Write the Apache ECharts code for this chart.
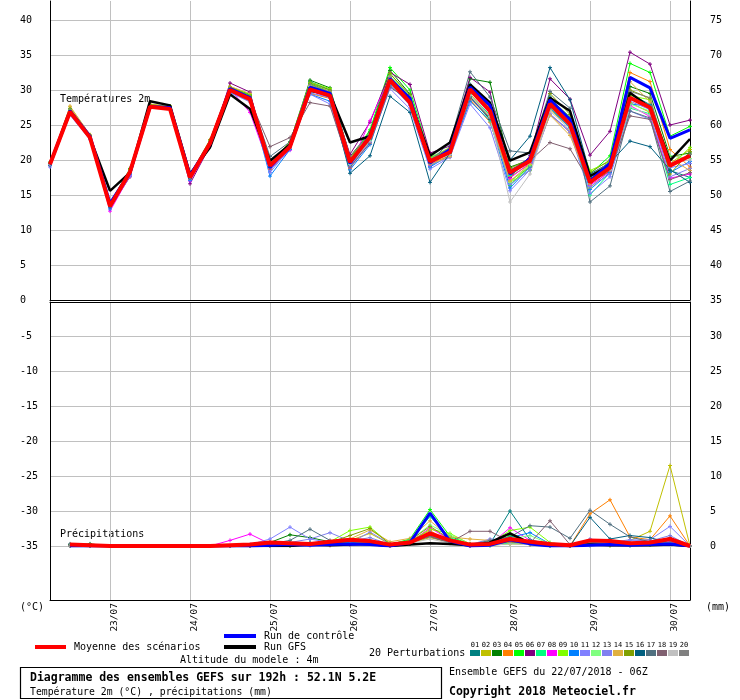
<!DOCTYPE html>
<html><head><meta charset="utf-8">
<script src="https://cdn.jsdelivr.net/npm/echarts@6/dist/echarts.min.js"></script>
<style>html,body{margin:0;padding:0;background:#fff}#c{width:740px;height:700px}</style>
</head><body><div id="c"></div>
<script>
// ---- categories (6-hourly steps, run 22/07/2018 06Z, 192h) ----
const times = ['22/07 06Z','22/07 12Z','22/07 18Z',
  '23/07 00Z','23/07 06Z','23/07 12Z','23/07 18Z',
  '24/07 00Z','24/07 06Z','24/07 12Z','24/07 18Z',
  '25/07 00Z','25/07 06Z','25/07 12Z','25/07 18Z',
  '26/07 00Z','26/07 06Z','26/07 12Z','26/07 18Z',
  '27/07 00Z','27/07 06Z','27/07 12Z','27/07 18Z',
  '28/07 00Z','28/07 06Z','28/07 12Z','28/07 18Z',
  '29/07 00Z','29/07 06Z','29/07 12Z','29/07 18Z',
  '30/07 00Z','30/07 06Z'];

// ---- 2m temperature (°C) ----
const tMean = [19.4,26.9,23.2,13.4,18.3,27.6,27.3,17.5,22.4,30.0, 28.7,19.2,21.9,30.1,29.2,19.7,23.3,31.4,28.2,19.8, 21.1,30.1,27.0,18.2,19.9,28.0,25.1,16.8,18.9,28.9, 27.5,19.2,20.6];
const tGfs  = [19.4,27.0,23.2,15.6,18.2,28.4,27.8,18.0,21.8,29.4, 27.3,19.9,22.2,29.9,29.4,22.5,23.4,31.3,28.4,20.6, 22.5,30.8,28.2,19.9,21.1,28.9,27.0,17.7,19.2,29.6, 27.5,19.9,23.0];
const tCtrl = [19.4,27.0,23.4,13.8,18.2,27.6,27.5,17.8,22.3,30.2, 28.9,19.0,22.0,30.4,29.5,19.5,23.5,31.6,28.8,19.6, 21.5,30.4,27.8,18.0,20.2,28.6,25.8,17.0,19.5,31.8, 30.3,23.1,24.3];
const t01 = [19.5,27.3,23.5,13.6,18.5,27.8,27.5,17.3,22.6,30.3, 29.0,18.5,22.0,31.2,30.0,19.2,23.0,31.8,28.6,19.0, 21.5,30.8,27.6,18.5,20.3,29.0,25.8,17.2,19.0,29.5, 27.9,18.5,17.5];
const t02 = [19.6,27.6,23.6,13.8,18.6,27.9,27.7,17.6,22.8,30.5, 29.3,18.8,22.3,30.8,29.6,19.8,23.6,31.9,28.5,20.2, 21.0,30.0,26.8,17.6,19.4,27.2,24.6,16.0,18.6,28.2, 26.8,19.5,21.5];
const t03 = [19.7,27.2,23.4,13.5,18.8,27.8,27.6,17.9,22.7,30.2, 29.0,19.6,22.5,31.4,30.3,20.5,24.0,32.8,29.4,19.6, 21.3,31.6,31.1,19.0,20.0,27.8,25.5,17.5,19.8,30.5, 29.5,20.5,21.0];
const t04 = [19.3,26.8,23.0,13.3,18.0,27.5,27.4,17.2,22.2,29.8, 28.3,18.6,21.6,29.5,28.8,18.8,22.8,30.8,28.0,19.5, 20.6,28.6,25.4,17.0,19.0,26.5,24.0,16.5,19.4,32.5, 31.2,21.5,19.0];
const t05 = [19.5,27.0,23.2,13.6,18.4,27.8,27.6,17.8,22.6,30.3, 29.4,19.4,22.4,30.9,29.8,20.0,24.3,33.2,30.0,20.5, 21.0,29.0,26.2,16.4,19.2,28.5,25.8,18.0,20.6,33.8, 32.5,23.4,24.8];
const t06 = [19.2,26.5,23.0,13.2,17.6,27.6,27.3,16.6,22.0,31.0, 29.7,18.5,22.2,30.2,29.5,20.8,25.4,32.5,30.8,21.0, 22.0,31.8,29.7,17.5,20.6,31.6,28.7,20.7,24.1,35.4, 33.7,25.0,25.7];
const t07 = [19.5,27.1,23.3,13.6,18.3,27.7,27.5,17.6,22.5,30.2, 28.8,19.0,22.1,30.6,29.6,19.4,22.8,31.5,28.7,20.0, 20.8,29.4,26.4,17.8,19.8,27.5,24.8,15.0,18.2,27.4, 26.6,16.5,17.5];
const t08 = [19.3,26.6,23.0,12.7,17.8,27.4,27.3,17.0,22.0,30.1, 26.8,18.8,21.4,29.9,28.9,19.0,25.6,31.9,28.0,19.2, 21.6,29.8,26.6,17.4,19.6,28.2,25.4,16.4,18.3,27.8, 26.2,17.4,18.0];
const t09 = [19.6,27.1,23.5,13.9,18.7,27.9,27.7,17.7,22.8,30.4, 29.2,19.3,22.6,31.1,30.2,19.8,23.4,32.4,29.0,20.3, 21.8,30.2,26.9,16.8,18.5,28.7,26.2,18.5,19.8,29.2, 28.6,19.0,21.8];
const t10 = [19.2,26.6,23.1,13.0,17.9,27.5,27.2,17.1,22.1,29.7, 28.5,17.7,21.5,29.4,28.4,18.6,22.2,30.6,28.1,19.0, 20.7,28.4,25.6,16.0,19.0,27.4,24.6,15.8,18.2,28.0, 27.7,18.2,19.8];
const t11 = [19.0,26.4,22.9,13.2,17.7,27.4,27.3,17.3,22.0,29.6, 28.3,18.2,21.7,29.4,28.0,18.9,22.5,30.2,27.3,18.7, 20.4,28.0,24.6,15.6,18.6,26.6,23.9,15.2,17.6,27.0, 25.8,18.9,19.5];
const t12 = [19.6,27.2,23.4,13.7,18.6,27.8,27.5,17.9,22.7,30.0, 28.8,19.5,22.3,30.4,29.4,19.5,23.2,32.0,29.2,20.6, 21.3,29.2,25.6,16.8,19.3,27.8,25.3,17.4,19.6,28.0, 27.0,20.6,20.2];
const t13 = [19.3,26.7,23.1,13.4,18.1,27.6,27.4,17.6,22.3,29.9, 28.4,18.5,21.8,29.6,28.9,19.1,22.6,30.8,27.8,19.3, 20.4,29.1,26.0,16.5,18.6,26.5,24.2,16.2,18.0,28.4, 27.2,17.6,18.8];
const t14 = [19.4,27.7,23.6,13.8,18.5,28.0,27.6,17.8,22.5,30.5, 29.5,19.1,22.1,30.7,29.8,19.6,23.6,31.6,29.0,19.4, 20.5,29.5,26.1,17.0,19.4,26.4,23.5,16.6,18.7,31.2, 28.3,20.2,18.5];
const t15 = [19.6,27.3,23.5,13.9,18.6,27.9,27.6,17.9,22.9,30.4, 29.2,19.6,22.6,31.0,30.0,20.3,23.8,32.3,29.3,19.9, 21.7,29.8,27.6,18.8,20.2,29.5,26.5,18.2,20.0,30.0, 28.8,18.0,21.2];
const t16 = [19.3,26.8,23.1,13.3,18.2,27.5,27.4,17.4,22.4,29.8, 28.6,18.9,22.2,30.0,29.0,18.1,20.6,29.1,26.8,16.8, 21.0,29.0,25.8,20.0,23.4,33.2,28.6,18.0,19.6,22.7, 21.9,18.6,16.8];
const t17 = [19.4,27.0,23.3,13.5,18.4,27.7,27.6,17.7,22.6,30.1, 28.9,20.5,22.6,30.3,29.5,19.9,23.0,31.2,28.5,19.8, 22.5,32.6,29.0,21.3,21.0,29.8,27.4,14.0,16.3,27.0, 26.0,15.5,17.0];
const t18 = [19.4,27.0,23.2,13.6,18.2,27.7,27.5,17.8,22.5,30.0, 28.6,21.9,23.2,28.2,27.7,19.0,22.4,30.4,28.5,19.5, 21.4,28.8,26.0,18.6,19.9,22.5,21.6,16.8,18.4,26.3, 25.8,17.2,18.2];
const t19 = [19.4,26.9,23.3,13.7,18.3,27.6,27.4,17.6,22.4,30.1, 28.7,19.3,22.0,30.5,29.3,19.4,22.7,31.0,28.4,19.8, 20.8,29.2,26.2,14.0,18.0,27.0,24.4,16.8,18.6,27.6, 26.4,19.6,20.0];
const t20 = [19.5,27.1,23.4,13.6,18.4,27.8,27.6,17.9,22.6,30.2, 29.0,19.6,22.3,30.8,29.7,20.5,23.8,31.8,28.9,20.2, 21.7,30.4,27.6,18.3,20.0,28.4,25.9,17.8,19.7,29.8, 28.9,19.2,20.8];

// ---- 6h precipitation (mm) ----
const pMean = [null,0.2,0.1,0,0,0,0,0,0,0.1, 0.2,0.5,0.4,0.3,0.6,0.9,0.7,0.2,0.5,1.8, 0.8,0.2,0.3,1.0,0.6,0.3,0.1,0.8,0.7,0.4, 0.5,1.0,0];
const pGfs  = [null,0,0,0,0,0,0,0,0,0, 0,0,0,0.2,0.1,0.2,0.3,0,0.2,0.4, 0.3,0.1,0.5,1.8,0.4,0.1,0,0.2,0.1,0.1, 0.1,0.2,0];
const pCtrl = [null,0,0,0,0,0,0,0,0,0, 0,0.1,0.2,0.1,0.2,0.3,0.2,0,0.5,4.7, 0.7,0,0.1,0.9,0.3,0,0,0.1,0.2,0.1, 0.2,0.3,0];
const p01 = [null,0.1,0.1,0,0,0,0,0,0,0, 0,0.2,0.4,0.3,0.2,0.5,0.6,0.1,0.6,1.4, 0.8,0.1,0.3,5.0,0.9,0.2,0,0.5,0.4,0.2, 0.3,0.6,0];
const p02 = [null,0.1,0,0,0,0,0,0,0,0, 0,0,0.2,0.1,0.3,0.8,1.8,0.3,0.4,1.2, 0.5,0.2,0.1,0.3,0.2,0,0,0.2,0.1,0.8, 2.1,11.5,0];
const p03 = [null,0.2,0.3,0,0,0,0,0,0,0, 0.1,0.5,1.6,1.2,0.6,0.4,0.5,0.2,0.3,1.8, 0.6,0.2,0.3,1.8,0.5,0.1,0,0.3,0.2,0.1, 0.2,0.4,0];
const p04 = [null,0,0,0,0,0,0,0,0,0, 0,0,0.1,0.2,0.4,0.8,0.5,0.1,0.8,2.2, 0.6,0.1,0.2,0.4,0.3,0.2,0,4.6,6.6,1.3, 0.9,4.3,0];
const p05 = [null,0,0,0,0,0,0,0,0,0, 0,0,0,0.2,0.3,0.3,0.4,0.2,1.0,5.2, 1.4,0.2,0.1,1.5,0.4,0,0,0.2,0.3,0.2, 0.4,0.8,0];
const p06 = [null,0,0,0,0,0,0,0,0,0, 0,0,0.1,0.2,0.1,0.2,0.3,0,0.4,1.5, 0.6,0,0.2,0.6,0.2,0.1,0,0.1,0.2,0.4, 0.3,0.5,0];
const p07 = [null,0,0,0,0,0,0,0,0,0, 0,0,0.2,0.3,0.5,0.6,0.8,0.2,0.9,4.2, 1.2,0.2,0.1,0.4,0.3,0,0,0.1,0.2,0.1, 0.2,0.3,0];
const p08 = [null,0,0,0,0,0,0,0,0,0.8, 1.7,0.3,0.2,0.1,0.2,0.3,0.4,0.1,0.5,2.6, 0.9,0.1,0.2,2.6,0.8,0.1,0,0.2,0.3,0.3, 0.4,0.6,0];
const p09 = [null,0,0,0,0,0,0,0,0,0, 0,0,0.1,0.3,0.6,2.2,2.7,0.3,0.6,2.4, 1.8,0.3,0.4,2.2,2.7,0.5,0,0.2,0.1,0.2, 0.3,0.4,0];
const p10 = [null,0,0,0,0,0,0,0,0,0, 0,0.1,0.2,0.2,0.3,0.5,0.4,0.1,0.7,1.9, 0.8,0.2,0.5,1.2,1.9,0.3,0,0.3,0.2,0.1, 0.2,0.5,0];
const p11 = [null,0,0,0,0,0,0,0,0,0, 0.2,1.0,2.7,1.0,0.5,0.4,2.0,0.3,0.6,1.6, 0.9,0.2,1.0,0.8,0.4,0.2,0,0.4,0.3,0.8, 0.9,2.8,0];
const p12 = [null,0,0,0,0,0,0,0,0,0, 0,0,0.1,0.2,0.4,0.6,0.9,0.2,0.8,3.0, 1.6,0.3,0.2,1.0,1.5,0.3,0,0.2,0.1,0.1, 0.3,0.4,0];
const p13 = [null,0,0,0,0,0,0,0,0,0, 0,0.2,0.5,1.0,1.9,0.7,1.2,0.2,0.5,2.0, 0.7,0.1,0.3,0.9,0.6,0.1,0,1.0,0.5,0.9, 0.7,1.5,0];
const p14 = [null,0,0,0,0,0,0,0,0,0, 0,0,0.1,0.4,0.5,1.0,2.3,0.6,1.1,3.6, 1.3,1.0,0.8,0.5,0.3,0.2,0,0.6,0.8,0.4, 0.6,0.9,0];
const p15 = [null,0,0,0,0,0,0,0,0,0, 0,0,0.2,0.3,0.5,1.5,2.5,0.3,0.8,2.8, 1.0,0.3,0.4,0.6,0.3,0.1,0,0.2,0.1,0.2, 0.3,0.3,0];
const p16 = [null,0,0,0,0,0,0,0,0,0, 0,0.1,0.3,0.5,0.4,0.6,0.5,0.1,0.4,1.7, 0.5,0.1,0.2,0.8,0.5,0.3,0,4.1,1.0,1.5, 1.2,0.4,0];
const p17 = [null,0.3,0.2,0,0,0,0,0,0,0, 0,0.3,0.8,2.4,0.8,0.6,0.5,0.1,0.5,1.4, 0.4,0.2,0.8,1.3,2.9,2.7,1.1,5.1,3.1,1.3, 0.6,0.4,0];
const p18 = [null,0,0,0,0,0,0,0,0,0, 0,0,0.2,0.3,0.2,0.3,0.4,0.1,0.6,1.3, 0.5,2.1,2.1,0.6,0.4,3.6,0.2,0.3,0.2,0.3, 0.5,1.2,0];
const p19 = [null,0,0,0,0,0,0,0,0,0, 0,0,0.1,0.2,0.2,0.3,0.3,0,0.4,1.0, 0.4,0.1,0.1,0.3,0.2,0,0,0.1,0.2,0.1, 0.2,0.3,0];
const p20 = [null,0.1,0.1,0,0,0,0,0,0,0, 0,0.2,0.3,0.4,0.3,0.4,0.5,0.1,0.5,1.5, 0.6,0.2,0.3,0.7,0.4,0.2,0,0.3,0.3,0.2, 0.3,0.5,0];

const pertNames = ['01','02','03','04','05','06','07','08','09','10','11','12','13','14','15','16','17','18','19','20'];
const pertColors = ['#008080','#c0c000','#008000','#ff8000','#00ff00','#800080','#00ff80','#ff00ff','#80ff00','#0080ff',
                    '#8080ff','#80ff80','#8080f0','#e0b040','#80a000','#005f80','#507080','#806070','#c0c0c0','#808080'];
const tPerts = [t01,t02,t03,t04,t05,t06,t07,t08,t09,t10,t11,t12,t13,t14,t15,t16,t17,t18,t19,t20];
const pPerts = [p01,p02,p03,p04,p05,p06,p07,p08,p09,p10,p11,p12,p13,p14,p15,p16,p17,p18,p19,p20];

const MONO = '"DejaVu Sans Mono", monospace';
const GRIDC = '#c0c0c0';
const cross = 'path://M2,0L2,4M0,2L4,2';
const isDay = (idx, v) => String(times[idx]).endsWith('00Z');
const fmt5 = v => (Math.abs(Math.round(v) - v) < 1e-6 && Math.round(v) % 5 === 0) ? String(Math.round(v)) : '';

const chart = echarts.init(document.getElementById('c'), null, {renderer: 'canvas'});

function xAx(grid, pos, labels) {
  return {
    type: 'category', gridIndex: grid, data: times, boundaryGap: false, position: pos,
    axisLine: {show: true, onZero: false, lineStyle: {color: '#000', width: 1}},
    axisTick: {show: false},
    splitLine: {show: true, interval: isDay, lineStyle: {color: GRIDC, width: 1}},
    axisLabel: labels ? {
      show: true, interval: isDay, rotate: 90, margin: 3, color: '#000',
      fontFamily: MONO, fontSize: 9.5, verticalAlign: 'top',
      formatter: v => v.slice(0, 5)
    } : {show: false}
  };
}
function yAx(grid, pos, min, max, opts) {
  return Object.assign({
    type: 'value', gridIndex: grid, position: pos, min: min, max: max, interval: 5,
    axisLine: {show: true, lineStyle: {color: '#000', width: 1}},
    axisTick: {show: false},
    splitLine: {show: false},
    axisLabel: {show: true, color: '#000', fontFamily: MONO, fontSize: 10,
      margin: pos === 'left' ? 30 : 20, align: 'left', formatter: fmt5}
  }, opts || {});
}

const series = [];
tPerts.forEach((d, i) => series.push({
  type: 'line', xAxisIndex: 0, yAxisIndex: 0, data: d, symbol: cross, symbolSize: 4, showSymbol: true,
  itemStyle: {color: pertColors[i], borderColor: pertColors[i], borderWidth: 1},
  lineStyle: {color: pertColors[i], width: 1}, silent: true, z: 2
}));
pPerts.forEach((d, i) => series.push({
  type: 'line', xAxisIndex: 1, yAxisIndex: 3, data: d, symbol: cross, symbolSize: 4, showSymbol: true,
  itemStyle: {color: pertColors[i], borderColor: pertColors[i], borderWidth: 1},
  lineStyle: {color: pertColors[i], width: 1}, silent: true, z: 2
}));
const main = (d, xi, yi, c, w, z) => ({type: 'line', xAxisIndex: xi, yAxisIndex: yi, data: d, symbol: 'none',
  lineStyle: {color: c, width: w}, itemStyle: {color: c}, silent: true, z: z});
series.push(main(tGfs, 0, 0, '#000', 2.5, 3), main(tCtrl, 0, 0, '#0000ff', 3, 4), main(tMean, 0, 0, '#ff0000', 4, 5));
series.push(main(pGfs, 1, 3, '#000', 2.5, 3), main(pCtrl, 1, 3, '#0000ff', 3, 4), main(pMean, 1, 3, '#ff0000', 4, 5));

const txt = (text, x, y, size, bold, align) => ({type: 'text', x: x, y: y, silent: true,
  style: {text: text, fill: '#000', font: (bold ? 'bold ' : '') + size + 'px ' + MONO, verticalAlign: 'middle', align: align || 'left'}});

const graphic = [
  txt('Températures 2m', 60, 99, 10),
  txt('Précipitations', 60, 534, 10),
  txt('(°C)', 20, 607, 10),
  txt('(mm)', 706, 607, 10),
  {type: 'rect', shape: {x: 35, y: 645, width: 31, height: 4}, style: {fill: '#ff0000'}, silent: true},
  txt('Moyenne des scénarios', 74, 647, 10),
  {type: 'rect', shape: {x: 224, y: 634, width: 32, height: 4}, style: {fill: '#0000ff'}, silent: true},
  txt('Run de contrôle', 264, 636, 10),
  {type: 'rect', shape: {x: 224, y: 645, width: 32, height: 4}, style: {fill: '#000'}, silent: true},
  txt('Run GFS', 264, 647, 10),
  txt('Altitude du modele : 4m', 180, 660, 10),
  txt('20 Perturbations', 369, 653, 10),
  {type: 'rect', shape: {x: 20.5, y: 667.5, width: 421, height: 31}, style: {fill: 'none', stroke: '#000', lineWidth: 1.2}, silent: true},
  txt('Diagramme des ensembles GEFS sur 192h : 52.1N 5.2E', 30, 678, 11.5, true),
  txt('Température 2m (°C) , précipitations (mm)', 30, 692, 9.8),
  txt('Ensemble GEFS du 22/07/2018 - 06Z', 449, 672, 10),
  txt('Copyright 2018 Meteociel.fr', 449, 692, 11.5, true)
];
pertNames.forEach((n, i) => {
  const x = 470 + i * 11;
  graphic.push({type: 'rect', shape: {x: x, y: 650, width: 10, height: 6}, style: {fill: pertColors[i]}, silent: true});
  graphic.push(txt(n, x + 5, 645, 7, false, 'center'));
});

chart.setOption({
  animation: false,
  backgroundColor: '#fff',
  grid: [
    {left: 50, right: 50, top: 1, height: 299, containLabel: false, outerBoundsMode: 'none'},
    {left: 50, right: 50, top: 302, height: 244, containLabel: false, outerBoundsMode: 'none'},
    {left: 50, right: 50, top: 546, height: 54, containLabel: false, outerBoundsMode: 'none'}
  ],
  xAxis: [xAx(0, 'bottom', false), xAx(1, 'top', false), xAx(2, 'bottom', true)],
  yAxis: [
    yAx(0, 'left', 0, 299 / 7, {splitLine: {show: true, showMaxLine: false, lineStyle: {color: GRIDC, width: 1}}}),
    yAx(0, 'right', 35, 35 + 299 / 7),
    yAx(1, 'left', -35, -35 + 244 / 7, {splitLine: {show: true, showMaxLine: false, lineStyle: {color: GRIDC, width: 1}}}),
    yAx(1, 'right', 0, 244 / 7),
    {type: 'value', gridIndex: 2, position: 'left', min: 0, max: 1, axisLine: {show: true, lineStyle: {color: '#000', width: 1}}, axisTick: {show: false}, axisLabel: {show: false}, splitLine: {show: false}},
    {type: 'value', gridIndex: 2, position: 'right', min: 0, max: 1, axisLine: {show: true, lineStyle: {color: '#000', width: 1}}, axisTick: {show: false}, axisLabel: {show: false}, splitLine: {show: false}}
  ],
  series: series,
  graphic: graphic
});
</script>
</body></html>
